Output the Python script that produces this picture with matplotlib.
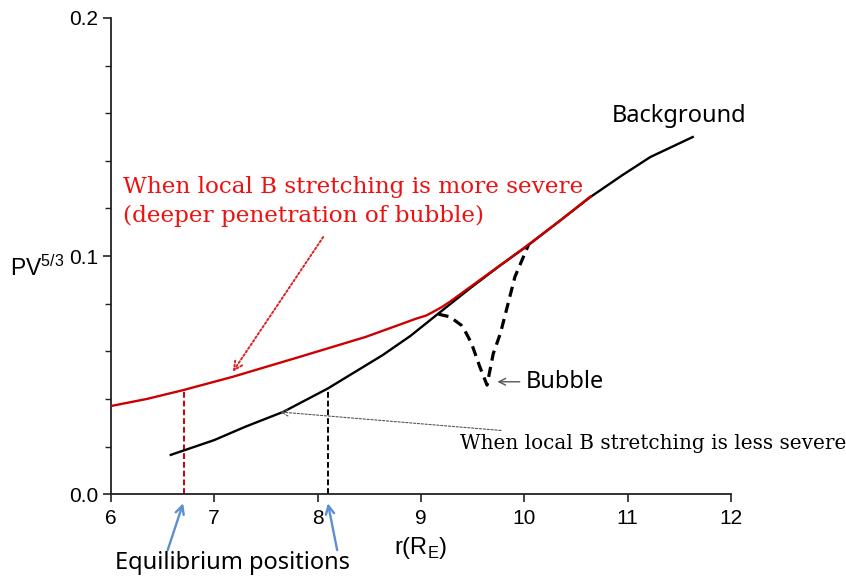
import matplotlib.pyplot as plt
from matplotlib.ticker import MultipleLocator

# -----------------------------
# Data
# -----------------------------
bg_r = [6.58, 7.0, 7.3, 7.67, 8.1, 8.35, 8.63, 8.9, 9.15, 9.48, 9.75, 10.04, 10.35, 10.64, 10.95, 11.22, 11.63]
bg_pv = [0.0165, 0.0227, 0.0283, 0.0346, 0.0444, 0.0510, 0.0584, 0.0665, 0.0752, 0.0866, 0.0955, 0.1046,
         0.1150, 0.1248, 0.1340, 0.1416, 0.1500]

severe_r = [6.0, 6.35, 6.7, 7.18, 7.83, 8.47, 8.96, 9.05, 9.12, 9.2, 9.28, 9.48, 10.0, 10.35, 10.64]
severe_pv = [0.0370, 0.0400, 0.0437, 0.0493, 0.0577, 0.0661, 0.0738, 0.0750, 0.0766, 0.0785, 0.0808,
             0.0871, 0.1035, 0.1150, 0.1250]

bubble_r = [9.17, 9.28, 9.39, 9.44, 9.49, 9.57, 9.64, 9.70, 9.77, 9.91, 10.04]
bubble_pv = [0.0756, 0.0745, 0.0710, 0.0675, 0.0633, 0.0535, 0.0458, 0.0590, 0.0676, 0.0913, 0.1046]

eq_r = [6.71, 8.10]
eq_pv = [0.0437, 0.0444]
eq_colors = ["#cc0000", "black"]

xticks = [6, 7, 8, 9, 10, 11, 12]
yticks = [0.0, 0.1, 0.2]
ytick_labels = ["0.0", "0.1", "0.2"]

# -----------------------------
# Figure
# -----------------------------
fig = plt.figure(figsize=(8.46, 5.80), dpi=100)
ax = fig.add_axes([0.131, 0.148, 0.733, 0.821])

ax.plot(bg_r, bg_pv, color="black", lw=1.7, zorder=3)
ax.plot(severe_r, severe_pv, color="#cc0000", lw=1.7, zorder=4)
ax.plot(bubble_r, bubble_pv, color="black", lw=2.3, ls=(0, (3.2, 2.0)), zorder=3)

for r, pv, c in zip(eq_r, eq_pv, eq_colors):
    ax.plot([r, r], [0, pv], color=c, lw=1.4, ls=(0, (3, 1.5)), zorder=2)

ax.set_xlim(6, 12)
ax.set_ylim(0, 0.2)
ax.set_xticks(xticks)
ax.set_yticks(yticks)
ax.set_yticklabels(ytick_labels)
ax.yaxis.set_minor_locator(MultipleLocator(0.02))
ax.tick_params(which="major", length=6, width=1.2, labelsize=15, direction="out", colors="#222222")
ax.tick_params(which="minor", length=4, width=1.0, direction="out", colors="#222222")
ax.tick_params(axis="x", pad=5)
ax.tick_params(axis="y", pad=3)
for lab in ax.get_xticklabels() + ax.get_yticklabels():
    lab.set_fontfamily("Liberation Sans")
    lab.set_color("black")

for s in ["top", "right"]:
    ax.spines[s].set_visible(False)
for s in ["left", "bottom"]:
    ax.spines[s].set_linewidth(1.3)
    ax.spines[s].set_color("#222222")

# axis labels
ax.text(9.0, -0.0225, "r(R$_\\mathregular{E}$)", ha="center", va="center", fontsize=17,
        family="Liberation Sans", clip_on=False)
ax.text(5.29, 0.095, "PV$^\\mathregular{5/3}$", ha="center", va="center", fontsize=16.5,
        family="Liberation Sans", clip_on=False)

# -----------------------------
# Annotations
# -----------------------------
ax.text(6.12, 0.129, "When local B stretching is more severe", color="#ee1111", fontsize=16.7,
        family="DejaVu Serif", ha="left", va="center")
ax.text(6.12, 0.117, "(deeper penetration of bubble)", color="#ee1111", fontsize=16.7,
        family="DejaVu Serif", ha="left", va="center")
ax.annotate("", xy=(7.18, 0.0514), xytext=(8.055, 0.108),
            arrowprops=dict(arrowstyle="->", color="#dd2222", lw=1.4, ls=(0, (1, 1.2)),
                            shrinkA=0, shrinkB=0, mutation_scale=15))

ax.annotate("When local B stretching is less severe", xy=(7.64, 0.0345), xytext=(9.38, 0.0214),
            color="black", fontsize=14.4, family="DejaVu Serif", ha="left", va="center",
            arrowprops=dict(arrowstyle="->", color="#555555", lw=0.8, ls=(0, (2, 1.5)),
                            shrinkA=4, shrinkB=0, mutation_scale=12))

ax.text(10.85, 0.159, "Background", fontsize=17, family="Noto Sans", ha="left", va="center")

ax.annotate("Bubble", xy=(9.74, 0.0472), xytext=(10.01, 0.0472), fontsize=17, family="Noto Sans",
            ha="left", va="center",
            arrowprops=dict(arrowstyle="->", color="#555555", lw=1.0, shrinkA=2, shrinkB=0,
                            mutation_scale=12))

for r_head, r_tail in [(6.70, 6.55), (8.10, 8.19)]:
    ax.annotate("", xy=(r_head, -0.0038), xytext=(r_tail, -0.0235), annotation_clip=False,
                arrowprops=dict(arrowstyle="->", color="#5b8fd0", lw=1.7, shrinkA=0, shrinkB=0,
                                mutation_scale=15))
ax.text(7.18, -0.029, "Equilibrium positions", fontsize=17, family="Noto Sans",
        ha="center", va="center", clip_on=False)

fig.savefig("out.png", dpi=100)
